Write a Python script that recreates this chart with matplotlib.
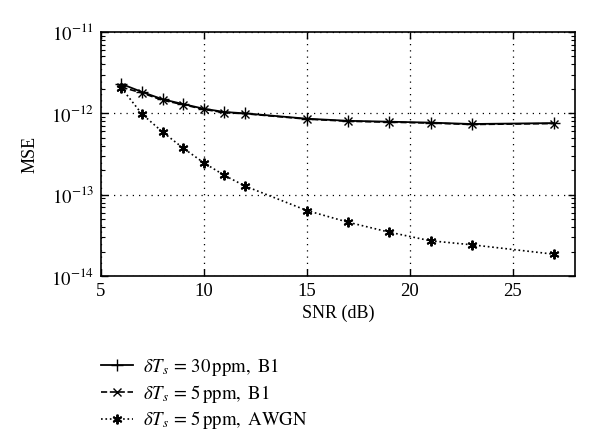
import matplotlib
matplotlib.use("Agg")
import matplotlib.pyplot as plt
from matplotlib.ticker import LogLocator, FixedLocator, NullFormatter

plt.rcParams['font.family'] = ['Liberation Serif', 'DejaVu Serif']
plt.rcParams['mathtext.fontset'] = 'stix'

snr = [6, 7, 8, 9, 10, 11, 12, 15, 17, 19, 21, 23, 27]
mse_30ppm_b1 = [2.3e-12, 1.83e-12, 1.49e-12, 1.30e-12, 1.14e-12, 1.04e-12, 1.0e-12,
                0.86e-12, 0.81e-12, 0.79e-12, 0.77e-12, 0.74e-12, 0.76e-12]
mse_5ppm_b1 = [2.1e-12, 1.78e-12, 1.45e-12, 1.28e-12, 1.12e-12, 1.02e-12, 0.99e-12,
               0.85e-12, 0.80e-12, 0.78e-12, 0.76e-12, 0.73e-12, 0.75e-12]
mse_5ppm_awgn = [2.05e-12, 0.98e-12, 5.9e-13, 3.74e-13, 2.47e-13, 1.73e-13, 1.28e-13,
                 6.4e-14, 4.6e-14, 3.47e-14, 2.72e-14, 2.43e-14, 1.86e-14]
labels = [r'$\delta T_s\, =\, 30\,\mathrm{ppm},\ \mathrm{B1}$',
          r'$\delta T_s\, =\, 5\,\mathrm{ppm},\ \mathrm{B1}$',
          r'$\delta T_s\, =\, 5\,\mathrm{ppm},\ \mathrm{AWGN}$']
xticks = [5, 10, 15, 20, 25]
yticks = [1e-14, 1e-13, 1e-12, 1e-11]

fig = plt.figure(figsize=(6, 4.44), dpi=100)
ax = fig.add_axes([0.168, 0.378, 0.79, 0.55])

asterisk = (6, 2, 0)
l1, = ax.plot(snr, mse_30ppm_b1, '-', color='black', lw=1.3, marker='+', ms=8, mew=1.0)
l2, = ax.plot(snr, mse_5ppm_b1, '--', color='black', lw=1.2, marker='x', ms=6, mew=1.0)
l3, = ax.plot(snr, mse_5ppm_awgn, ':', color='black', lw=1.2, marker=asterisk, ms=7, mew=1.4)

ax.set_yscale('log')
ax.set_xlim(5, 28)
ax.set_ylim(1e-14, 1e-11)
ax.xaxis.set_major_locator(FixedLocator(xticks))
ax.yaxis.set_major_locator(FixedLocator(yticks))
ax.yaxis.set_minor_locator(LogLocator(base=10, subs=range(2, 10)))
ax.yaxis.set_minor_formatter(NullFormatter())
ax.set_yticklabels([r'$10^{-14}$', r'$10^{-13}$', r'$10^{-12}$', r'$10^{-11}$'])
ax.tick_params(which='both', direction='in', top=True, right=True, labelsize=13.5)
ax.tick_params(which='major', length=5, width=1, pad=5)
ax.tick_params(which='minor', length=3, width=0.8)
ax.grid(True, which='major', linestyle=(0, (1, 4)), color='black', lw=0.9)
for s in ax.spines.values():
    s.set_linewidth(1.2)

ax.set_xlabel('SNR (dB)', fontsize=13, labelpad=3)
ax.set_ylabel('MSE', fontsize=13, labelpad=9)

fig.legend([l1, l2, l3], labels, loc='upper left', bbox_to_anchor=(0.155, 0.215),
           frameon=False, fontsize=13.5, handlelength=1.75, handletextpad=0.5,
           labelspacing=0.25, borderaxespad=0)

fig.savefig('out.png', dpi=100)
